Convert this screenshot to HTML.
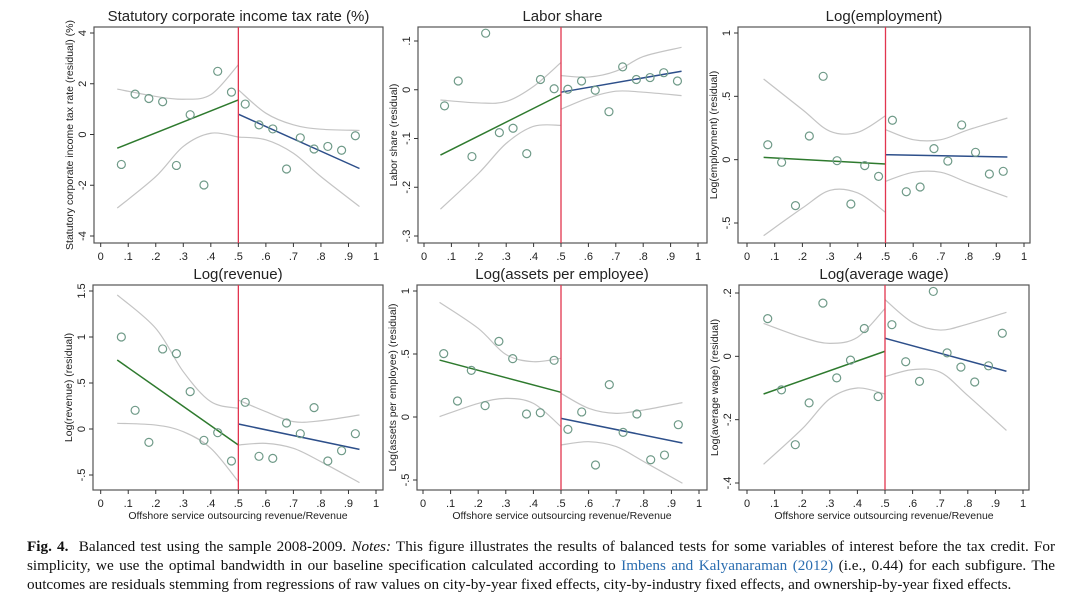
<!DOCTYPE html>
<html><head><meta charset="utf-8"><style>
body{margin:0;background:#fff;width:1080px;height:604px;overflow:hidden;position:relative;}
svg text{font-family:"Liberation Sans",Arial,sans-serif;fill:#222;}
#caption{position:absolute;left:27px;top:537px;width:1028px;font-family:"Liberation Serif",serif;font-size:15.2px;line-height:19px;color:#111;text-align:justify;}
#caption a{color:#2a6db0;text-decoration:none;}
</style></head><body>
<svg id="fig" width="1080" height="530" style="position:absolute;left:0;top:0"></svg>
<div id="caption"><b>Fig. 4.</b>&nbsp; Balanced test using the sample 2008-2009. <i>Notes:</i> This figure illustrates the results of balanced tests for some variables of interest before the tax credit. For simplicity, we use the optimal bandwidth in our baseline specification calculated according to <a>Imbens and Kalyanaraman (2012)</a> (i.e., 0.44) for each subfigure. The outcomes are residuals stemming from regressions of raw values on city-by-year fixed effects, city-by-industry fixed effects, and ownership-by-year fixed effects.</div>
<script>
const binX=[.075,.125,.175,.225,.275,.325,.375,.425,.475,.525,.575,.625,.675,.725,.775,.825,.875,.925];
const ciX_L=[.06,.2,.3,.4,.5];
const ciX_R=[.5,.6,.7,.8,.94];
const xTicks=[0,.1,.2,.3,.4,.5,.6,.7,.8,.9,1];
const xTickLabels=["0",".1",".2",".3",".4",".5",".6",".7",".8",".9","1"];

const tax_pts=[-1.18,1.59,1.42,1.29,-1.22,0.78,-1.99,2.49,1.67,1.2,0.38,0.22,-1.36,-0.13,-0.57,-0.47,-0.62,-0.05];
const tax_fitL=[-0.54,1.36], tax_fitR=[0.8,-1.34];
const tax_upL=[1.79,1.5,1.39,1.57,2.75], tax_loL=[-2.9,-1.66,-0.47,0.05,-0.1];
const tax_upR=[1.76,0.84,0.38,0.21,0.16], tax_loR=[-0.1,-0.21,-0.74,-1.66,-2.84];

const lab_pts=[-0.033,0.018,-0.137,0.116,-0.088,-0.079,-0.131,0.021,0.002,0.001,0.018,-0.001,-0.045,0.047,0.021,0.025,0.035,0.018];
const lab_fitL=[-0.134,-0.01], lab_fitR=[-0.005,0.038];
const lab_upL=[-0.021,-0.027,-0.024,0.007,0.056], lab_loL=[-0.245,-0.171,-0.11,-0.075,-0.073];
const lab_upR=[0.029,0.026,0.038,0.068,0.087], lab_loR=[-0.04,-0.017,-0.003,-0.005,-0.012];

const emp_pts=[0.118,-0.021,-0.363,0.187,0.658,-0.008,-0.35,-0.047,-0.132,0.311,-0.253,-0.216,0.087,-0.011,0.274,0.058,-0.113,-0.092];
const emp_fitL=[0.018,-0.034], emp_fitR=[0.039,0.021];
const emp_upL=[0.637,0.395,0.224,0.216,0.347], emp_loL=[-0.6,-0.382,-0.242,-0.263,-0.416];
const emp_upR=[0.237,0.158,0.158,0.237,0.329], emp_loR=[-0.171,-0.1,-0.1,-0.184,-0.295];

const rev_pts=[1.0,0.203,-0.145,0.87,0.819,0.406,-0.123,-0.04,-0.348,0.29,-0.297,-0.319,0.065,-0.051,0.232,-0.348,-0.236,-0.051];
const rev_fitL=[0.75,-0.174], rev_fitR=[0.054,-0.221];
const rev_upL=[1.457,1.094,0.623,0.297,0.225], rev_loL=[0.062,0.043,-0.029,-0.21,-0.572];
const rev_upR=[0.315,0.188,0.08,0.09,0.152], rev_loR=[-0.174,-0.156,-0.21,-0.355,-0.583];

const ast_pts=[0.503,0.127,0.37,0.09,0.6,0.463,0.024,0.034,0.45,-0.098,0.04,-0.381,0.257,-0.122,0.024,-0.339,-0.302,-0.061];
const ast_fitL=[0.452,0.196], ast_fitR=[-0.011,-0.206];
const ast_upL=[0.91,0.704,0.497,0.439,0.466], ast_loL=[0.003,0.108,0.148,0.108,-0.077];
const ast_upR=[0.188,0.069,0.029,0.056,0.114], ast_loR=[-0.222,-0.196,-0.235,-0.354,-0.526];

const wag_pts=[0.119,-0.106,-0.279,-0.147,0.168,-0.068,-0.012,0.088,-0.127,0.1,-0.017,-0.079,0.205,0.011,-0.034,-0.081,-0.03,0.073];
const wag_fitL=[-0.119,0.016], wag_fitR=[0.057,-0.047];
const wag_upL=[0.104,0.06,0.041,0.06,0.151], wag_loL=[-0.341,-0.229,-0.134,-0.1,-0.119];
const wag_upR=[0.179,0.107,0.083,0.102,0.139], wag_loR=[-0.064,-0.042,-0.05,-0.124,-0.234];

const panels=[
 {name:"tax-rate",title:"Statutory corporate income tax rate (%)",ylab:"Statutory corporate income tax rate (residual) (%)",box:[94,27,383,243],xp:[100.7,376],yv:[4,-4],yp:[33,236],yt:[-4,-2,0,2,4],ytl:["-4","-2","0","2","4"],pts:tax_pts,fL:tax_fitL,fR:tax_fitR,uL:tax_upL,lL:tax_loL,uR:tax_upR,lR:tax_loR,xt:false},
 {name:"labor-share",title:"Labor share",ylab:"Labor share (residual)",box:[418,27,707,243],xp:[424,698],yv:[.1,-.3],yp:[41,236],yt:[-.3,-.2,-.1,0,.1],ytl:["-.3","-.2","-.1","0",".1"],pts:lab_pts,fL:lab_fitL,fR:lab_fitR,uL:lab_upL,lL:lab_loL,uR:lab_upR,lR:lab_loR,xt:false},
 {name:"log-employment",title:"Log(employment)",ylab:"Log(employment) (residual)",box:[738,27,1030,243],xp:[747,1024],yv:[1,-.5],yp:[33,223],yt:[-.5,0,.5,1],ytl:["-.5","0",".5","1"],pts:emp_pts,fL:emp_fitL,fR:emp_fitR,uL:emp_upL,lL:emp_loL,uR:emp_upR,lR:emp_loR,xt:false},
 {name:"log-revenue",title:"Log(revenue)",ylab:"Log(revenue) (residual)",box:[93,285,383,490],xp:[100.7,376],yv:[1.5,-.5],yp:[291,475],yt:[-.5,0,.5,1,1.5],ytl:["-.5","0",".5","1","1.5"],pts:rev_pts,fL:rev_fitL,fR:rev_fitR,uL:rev_upL,lL:rev_loL,uR:rev_upR,lR:rev_loR,xt:true},
 {name:"log-assets-per-employee",title:"Log(assets per employee)",ylab:"Log(assets per employee) (residual)",box:[417,285,707,490],xp:[423,699],yv:[1,-.5],yp:[291,480],yt:[-.5,0,.5,1],ytl:["-.5","0",".5","1"],pts:ast_pts,fL:ast_fitL,fR:ast_fitR,uL:ast_upL,lL:ast_loL,uR:ast_upR,lR:ast_loR,xt:true},
 {name:"log-average-wage",title:"Log(average wage)",ylab:"Log(average wage) (residual)",box:[739,285,1029,490],xp:[747,1023],yv:[.2,-.4],yp:[293,483],yt:[-.4,-.2,0,.2],ytl:["-.4","-.2","0",".2"],pts:wag_pts,fL:wag_fitL,fR:wag_fitR,uL:wag_upL,lL:wag_loL,uR:wag_upR,lR:wag_loR,xt:true}
];
const NS="http://www.w3.org/2000/svg";
const svg=document.getElementById('fig');
function mk(tag,attrs,parent){const e=document.createElementNS(NS,tag);for(const k in attrs)e.setAttribute(k,attrs[k]);parent.appendChild(e);return e;}
function smooth(p){let d="M"+p[0][0]+","+p[0][1];for(let i=0;i<p.length-1;i++){const p0=p[i-1]||p[i],p1=p[i],p2=p[i+1],p3=p[i+2]||p2;
 d+=" C"+(p1[0]+(p2[0]-p0[0])/6)+","+(p1[1]+(p2[1]-p0[1])/6)+" "+(p2[0]-(p3[0]-p1[0])/6)+","+(p2[1]-(p3[1]-p1[1])/6)+" "+p2[0]+","+p2[1];}return d;}
panels.forEach(P=>{
 const g=mk('g',{},svg);
 
 
 const X=v=>P.xp[0]+(P.xp[1]-P.xp[0])*v;
 const Y=v=>P.yp[0]+(P.yp[1]-P.yp[0])*(v-P.yv[0])/(P.yv[1]-P.yv[0]);
 const [l,t,r,b]=P.box;
 const cx=(l+r)/2;
 const ti=mk('text',{x:cx,y:t-6,'text-anchor':'middle','font-size':'15'},g);ti.textContent=P.title;
 
 
 const fr=mk('rect',{x:l,y:t,width:r-l,height:b-t,fill:'none',stroke:'#555','stroke-width':'1.2'},g);
 
 
 xTicks.forEach((v,i)=>{const x=X(v);mk('line',{x1:x,y1:b,x2:x,y2:b+4,stroke:'#333'},g);
  const tx=mk('text',{x:x,y:b+17,'text-anchor':'middle','font-size':'11'},g);tx.textContent=xTickLabels[i];
  
  });
 P.yt.forEach((v,i)=>{const y=Y(v);mk('line',{x1:l-4,y1:y,x2:l,y2:y,stroke:'#333'},g);
  const tx=mk('text',{x:0,y:0,'text-anchor':'middle','font-size':'11',transform:`translate(${l-8},${y}) rotate(-90)`},g);tx.textContent=P.ytl[i];
  
  });
 const yl=mk('text',{x:0,y:0,'text-anchor':'middle','font-size':'10.5',transform:`translate(${l-21},${(t+b)/2}) rotate(-90)`},g);yl.textContent=P.ylab;
 
 
 if(P.xt){const xl=mk('text',{x:cx,y:b+29,'text-anchor':'middle','font-size':'10.5'},g);xl.textContent="Offshore service outsourcing revenue/Revenue";
  
  }
 [[ciX_L,P.uL],[ciX_L,P.lL],[ciX_R,P.uR],[ciX_R,P.lR]].forEach(([xs,vs])=>{
  const c=mk('path',{d:smooth(xs.map((x,i)=>[X(x),Y(vs[i])])),fill:'none',stroke:'#c4c4c4','stroke-width':'1.2'},g);
  
  });
 const f1=mk('line',{x1:X(.06),y1:Y(P.fL[0]),x2:X(.5),y2:Y(P.fL[1]),stroke:'#2e7a2e','stroke-width':'1.5'},g);
 
 
 const f2=mk('line',{x1:X(.5),y1:Y(P.fR[0]),x2:X(.94),y2:Y(P.fR[1]),stroke:'#2d4f8a','stroke-width':'1.5'},g);
 
 
 const cut=mk('line',{x1:X(.5),y1:t,x2:X(.5),y2:b,stroke:'#e2354f','stroke-width':'1.3'},g);
 
 
 P.pts.forEach((v,i)=>{const c=mk('circle',{cx:X(binX[i]),cy:Y(v),r:4,fill:'none',stroke:'#6f9a88','stroke-width':'1.2'},g);
  
  });
});
</script>
</body></html>
